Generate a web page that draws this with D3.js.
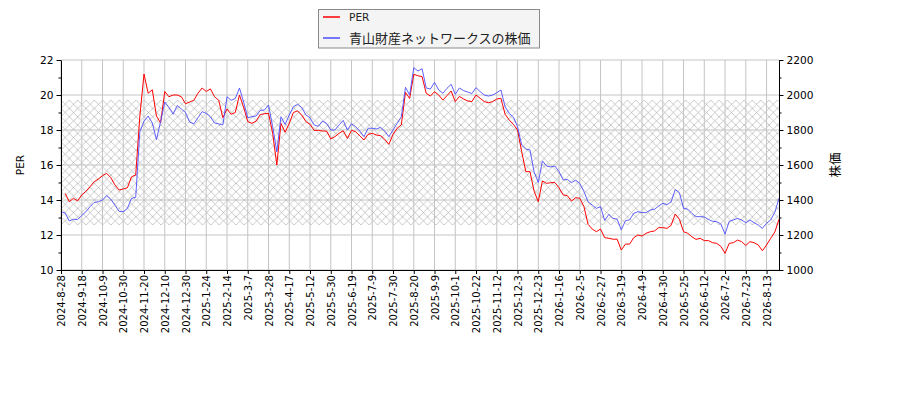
<!DOCTYPE html>
<html><head><meta charset="utf-8">
<script src="https://cdn.jsdelivr.net/npm/d3@7"></script>
<style>body{margin:0;background:#fff}</style>
</head><body>
<svg id="c" width="900" height="400"></svg>
<script>
const tickLabels = ["2024-8-28","2024-9-18","2024-10-9","2024-10-30","2024-11-20","2024-12-10","2024-12-30","2025-1-24","2025-2-14","2025-3-7","2025-3-28","2025-4-17","2025-5-12","2025-5-30","2025-6-19","2025-7-9","2025-7-30","2025-8-20","2025-9-9","2025-10-1","2025-10-22","2025-11-12","2025-12-3","2025-12-23","2026-1-16","2026-2-5","2026-2-27","2026-3-19","2026-4-9","2026-4-30","2026-5-25","2026-6-12","2026-7-2","2026-7-23","2026-8-13"];
const tickEvery = 15;   // trading days between labelled ticks
const sampleStep = 3;   // trading days between stored samples
const perValues = [null,14.38,13.9,14.1,13.95,14.29,14.5,14.76,15.05,15.2,15.39,15.52,15.28,14.86,14.57,14.63,14.7,15.33,15.43,18.8,
21.2,20.1,20.3,18.8,18.4,20.2,19.9,20.0,20.0,19.9,19.5,19.6,19.7,20.1,20.4,20.2,20.35,19.9,19.7,18.7,
19.2,18.9,19.0,20.0,19.3,18.48,18.38,18.51,18.88,18.93,18.95,17.81,16.0,18.38,17.87,18.38,19.0,19.09,18.86,18.48,
18.32,17.98,17.98,17.94,17.94,17.49,17.62,17.81,17.96,17.52,17.98,17.9,17.66,17.43,17.75,17.81,17.71,17.68,17.47,17.18,
17.75,18.1,18.29,20.15,19.8,21.18,21.1,21.05,20.1,19.94,20.19,20.0,19.71,19.96,20.23,19.62,19.92,19.77,19.66,19.62,
20.0,19.81,19.62,19.56,19.62,19.77,19.81,18.9,18.57,18.32,18.0,16.76,15.62,15.62,14.5,13.9,15.09,14.95,14.99,15.0,
14.7,14.29,14.25,13.94,14.13,14.1,13.62,12.61,12.34,12.19,12.34,11.85,11.81,11.76,11.76,11.14,11.48,11.48,11.85,12.0,
11.94,12.1,12.19,12.23,12.42,12.42,12.38,12.55,13.2,12.9,12.19,12.1,11.9,11.75,11.81,11.68,11.68,11.56,11.52,11.35,
10.95,11.52,11.56,11.71,11.62,11.4,11.62,11.56,11.43,11.1,11.43,11.81,12.17,12.9];
const priceValues = [1333,1325,1280,1290,1288,1312,1333,1362,1386,1390,1400,1425,1405,1370,1335,1333,1352,1410,1415,1790,
1850,1880,1840,1745,1848,1960,1930,1890,1940,1920,1900,1845,1835,1870,1905,1895,1875,1840,1835,1829,
1990,1970,1980,2040,1960,1870,1876,1880,1912,1914,1943,1819,1676,1876,1832,1886,1933,1947,1928,1886,
1870,1829,1821,1851,1838,1800,1800,1829,1855,1800,1836,1819,1794,1762,1810,1810,1806,1815,1794,1762,
1800,1838,1876,2044,2000,2156,2137,2150,2040,2034,2072,2029,2010,2038,2061,2004,2040,2025,2017,2008,
2042,2019,2000,1994,2000,2013,2029,1933,1895,1874,1819,1714,1691,1686,1560,1500,1623,1594,1589,1594,
1562,1514,1518,1499,1514,1495,1448,1390,1371,1352,1362,1283,1318,1295,1291,1229,1282,1286,1324,1333,
1328,1328,1343,1347,1366,1381,1373,1389,1460,1442,1352,1348,1324,1305,1305,1303,1289,1278,1276,1263,
1205,1278,1286,1295,1286,1270,1286,1270,1257,1238,1267,1286,1330,1410];
const hatchBand = [12.57, 19.71];
const perTicks = [10,12,14,16,18,20,22];
const perMinor = [11,13,15,17,19,21];
const priceTicks = [1000,1200,1400,1600,1800,2000,2200];
const priceMinor = [1100,1300,1500,1700,1900,2100];
const seriesNames = ["PER","青山財産ネットワークスの株価"];

const L=61,R=779,T=60,B=270;
const svg=d3.select("#c");
const font="DejaVu Sans, 'Noto Sans CJK JP', sans-serif";
const lastIdx=(priceValues.length-1)*sampleStep;
const x=d3.scaleLinear().domain([0,lastIdx]).range([L,R]);
const yL=d3.scaleLinear().domain([10,22]).range([B,T]);
const yR=d3.scaleLinear().domain([1000,2200]).range([B,T]);

// hatch pattern
const defs=svg.append("defs");
const s=8.33;
const pat=defs.append("pattern").attr("id","hx").attr("patternUnits","userSpaceOnUse")
  .attr("width",s).attr("height",s).attr("x",L).attr("y",yL(hatchBand[1]));
pat.append("path").attr("d",`M0,0L${s},${s}M0,${s}L${s},0`).attr("stroke","#a6a6a6").attr("stroke-width",0.6).attr("fill","none");
svg.append("rect").attr("x",L).attr("y",yL(hatchBand[1])).attr("width",R-L)
  .attr("height",yL(hatchBand[0])-yL(hatchBand[1])).attr("fill","url(#hx)");

// grid
const xt=tickLabels.map((d,i)=>i*tickEvery);
const g=svg.append("g").attr("stroke","#c4c4c4").attr("stroke-width",1);
xt.forEach(t=>g.append("line").attr("x1",x(t)).attr("x2",x(t)).attr("y1",T).attr("y2",B));
perTicks.forEach(t=>g.append("line").attr("x1",L).attr("x2",R).attr("y1",yL(t)).attr("y2",yL(t)));

// lines
const perLine=d3.line().defined(d=>d!=null).x((d,i)=>x(i*sampleStep)).y(d=>yL(d));
const priceLine=d3.line().x((d,i)=>x(i*sampleStep)).y(d=>yR(d));
svg.append("path").datum(perValues).attr("d",perLine).attr("fill","none").attr("stroke","#ff0000").attr("stroke-width",1);
svg.append("path").datum(priceValues).attr("d",priceLine).attr("fill","none").attr("stroke","#4d4dff").attr("stroke-width",0.9);

// axes
function style(a){a.selectAll("text").attr("font-family",font).attr("font-size","10.6px").attr("fill","#000");a.selectAll("line").attr("stroke","#000");a.select(".domain").attr("stroke","#000");}
const ax1=svg.append("g").attr("transform",`translate(${L},0)`).call(d3.axisLeft(yL).tickValues(perTicks).tickFormat(d3.format("d")).tickSize(4.5).tickPadding(3).tickSizeOuter(0));
style(ax1);
svg.append("g").attr("transform",`translate(${L},0)`).call(d3.axisLeft(yL).tickValues(perMinor).tickSize(2.5).tickFormat("")).call(a=>{a.select(".domain").remove();a.selectAll("line").attr("stroke","#000");});
const ax2=svg.append("g").attr("transform",`translate(${R},0)`).call(d3.axisRight(yR).tickValues(priceTicks).tickFormat(d3.format("d")).tickSize(4.5).tickPadding(3).tickSizeOuter(0));
style(ax2);
svg.append("g").attr("transform",`translate(${R},0)`).call(d3.axisRight(yR).tickValues(priceMinor).tickSize(2.5).tickFormat("")).call(a=>{a.select(".domain").remove();a.selectAll("line").attr("stroke","#000");});
const ax3=svg.append("g").attr("transform",`translate(0,${B})`).call(d3.axisBottom(x).tickValues(xt).tickFormat((d,i)=>tickLabels[i]).tickSize(4).tickSizeOuter(0));
style(ax3);
ax3.select(".domain").attr("d",`M${L},0.5H${R}`);
ax3.selectAll("text").attr("font-size","10px").attr("transform","rotate(-90)").attr("text-anchor","end").attr("x",-5).attr("y",0).attr("dy","0.35em");

// axis labels
svg.append("text").attr("transform",`translate(24,${(T+B)/2}) rotate(-90)`).attr("text-anchor","middle")
  .attr("font-family",font).attr("font-size","10.6px").text("PER");
svg.append("text").attr("transform",`translate(840,${(T+B)/2}) rotate(-90)`).attr("text-anchor","middle")
  .attr("font-family",font).attr("font-size","12.5px").text("株価");

// legend
const lg=svg.append("g");
lg.append("rect").attr("x",318.5).attr("y",9.5).attr("width",221).attr("height",38.5).attr("fill","#f4f4f4").attr("stroke","#8a8a8a").attr("stroke-width",1);
[["#ff0000",17],["#4d4dff",38]].forEach((c,i)=>{
  lg.append("line").attr("x1",323).attr("x2",340).attr("y1",c[1]).attr("y2",c[1]).attr("stroke",c[0]).attr("stroke-width",1.5);
  lg.append("text").attr("x",349).attr("y",c[1]).attr("dy","0.36em").attr("font-family",font)
    .attr("font-size",i==0?"10.6px":"13px").attr("fill","#222").text(seriesNames[i]);
});
</script>
</body></html>
